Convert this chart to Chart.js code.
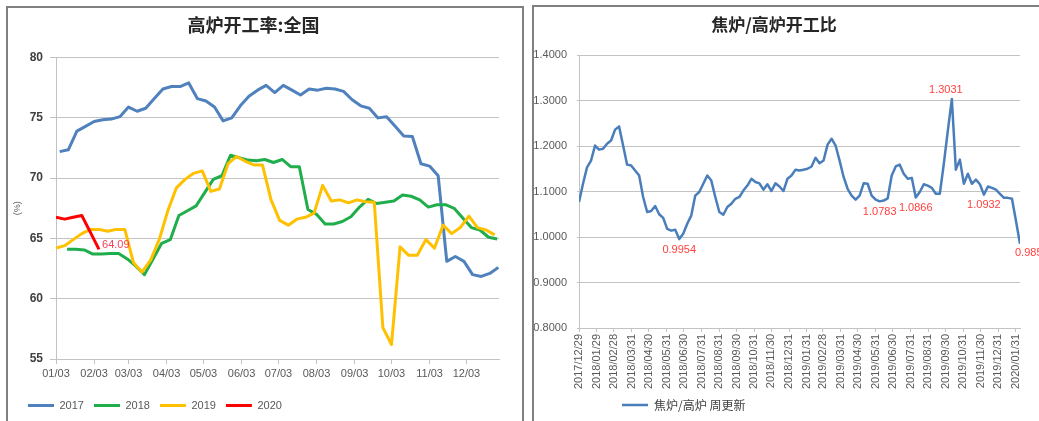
<!DOCTYPE html>
<html>
<head>
<meta charset="utf-8">
<script src="https://cdn.jsdelivr.net/npm/chart.js@4.4.1/dist/chart.umd.min.js"></script>
<style>
  html, body { margin: 0; padding: 0; background: #fff; }
  body { width: 1039px; height: 421px; position: relative; overflow: hidden; }
  .panel { position: absolute; overflow: hidden; border: 2px solid #808080; border-bottom: none; }
  #left { left: 6px; top: 6px; width: 514px; height: 415px; }
  #right { left: 532px; top: 5px; width: 507px; height: 416px; border-right: none; }
  canvas { position: absolute; top: 0; }
  #blastCanvas { left: 0; }
  #ratioCanvas { left: -6px; }
</style>
</head>
<body>
<div class="panel" id="left"><canvas id="blastCanvas" width="514" height="413"></canvas></div>
<div class="panel" id="right"><canvas id="ratioCanvas" width="511" height="414"></canvas></div>
<script>
// left chart: weekly blast furnace utilisation (%), one series per year
const monthTicks = ['01/03', '02/03', '03/03', '04/03', '05/03', '06/03', '07/03', '08/03', '09/03', '10/03', '11/03', '12/03']

const start2017 = '01/06'
const rate2017 = [72.2, 72.35, 73.9, 74.3, 74.7, 74.85, 74.9, 75.1, 75.9, 75.55,
  75.8, 76.6, 77.4, 77.6, 77.6, 77.9, 76.6, 76.4, 75.9, 74.75,
  75.0, 76.0, 76.8, 77.3, 77.7, 77.1, 77.7, 77.3, 76.9, 77.4,
  77.3, 77.45, 77.4, 77.2, 76.5, 76.0, 75.8, 75.0, 75.1, 74.3,
  73.5, 73.45, 71.2, 71.0, 70.2, 63.1, 63.5, 63.1, 62.0, 61.85,
  62.1, 62.6]

const start2018 = '01/12'
const rate2018 = [64.1, 64.1, 64.05, 63.7, 63.7, 63.75, 63.75, 63.3, 62.7, 62.0,
  63.3, 64.6, 64.9, 66.9, 67.3, 67.7, 68.8, 69.9, 70.2, 71.9,
  71.7, 71.5, 71.45, 71.55, 71.3, 71.55, 70.95, 70.95, 67.4, 67.0,
  66.2, 66.2, 66.4, 66.8, 67.6, 68.25, 67.9, 68.0, 68.1, 68.6,
  68.5, 68.2, 67.6, 67.8, 67.8, 67.5, 66.7, 65.9, 65.7, 65.1,
  64.95]

const start2019 = '01/03'
const rate2019 = [64.2, 64.4, 64.9, 65.4, 65.75, 65.75, 65.6, 65.75, 65.75, 63.0,
  62.2, 63.2, 64.9, 67.3, 69.2, 69.9, 70.4, 70.6, 68.9, 69.1,
  71.2, 71.8, 71.4, 71.1, 71.1, 68.2, 66.5, 66.1, 66.6, 66.75,
  67.1, 69.4, 68.1, 68.2, 67.95, 68.2, 68.05, 68.0, 57.6, 56.2,
  64.3, 63.6, 63.6, 64.9, 64.2, 66.1, 65.4, 65.9, 66.85, 65.9,
  65.7, 65.3]

const start2020 = '01/03'
const rate2020 = [66.75, 66.6, 66.75, 66.9, 65.5, 64.09]

// right chart: coke oven / blast furnace utilisation ratio, weekly from 2017/12/29
const ratioStart = '2017/12/29'
const ratioTicks = ['2017/12/29', '2018/01/29', '2018/02/28', '2018/03/31', '2018/04/30', '2018/05/31',
  '2018/06/30', '2018/07/31', '2018/08/31', '2018/09/30', '2018/10/31', '2018/11/30', '2018/12/31',
  '2019/01/31', '2019/02/28', '2019/03/31', '2019/04/30', '2019/05/31', '2019/06/30', '2019/07/31',
  '2019/08/31', '2019/09/30', '2019/10/31', '2019/11/30', '2019/12/31', '2020/01/31']
const ratio = [1.077, 1.117, 1.153, 1.168, 1.201, 1.192, 1.194, 1.205, 1.212, 1.236,
  1.243, 1.201, 1.159, 1.157, 1.146, 1.135, 1.088, 1.055, 1.057, 1.068,
  1.050, 1.042, 1.018, 1.014, 1.016, 0.9954, 1.007, 1.029, 1.047, 1.091,
  1.099, 1.117, 1.135, 1.124, 1.088, 1.055, 1.049, 1.066, 1.073, 1.084,
  1.088, 1.102, 1.113, 1.128, 1.121, 1.118, 1.104, 1.116, 1.101, 1.118,
  1.111, 1.101, 1.128, 1.135, 1.148, 1.146, 1.148, 1.150, 1.155, 1.174,
  1.162, 1.168, 1.203, 1.216, 1.201, 1.168, 1.132, 1.106, 1.091, 1.082,
  1.091, 1.118, 1.117, 1.091, 1.082, 1.0783, 1.080, 1.085, 1.135, 1.155,
  1.159, 1.139, 1.128, 1.130, 1.0866, 1.099, 1.116, 1.113, 1.108, 1.095,
  1.095, 1.161, 1.234, 1.3031, 1.148, 1.170, 1.117, 1.139, 1.117, 1.126,
  1.116, 1.0932, 1.111, 1.108, 1.104, 1.095, 1.086, 1.086, 1.084, 1.035,
  0.985]
const ratioNotes = [0.9954, 1.0783, 1.0866, 1.0932, 1.3031, 0.985]

const LATIN = "'Liberation Sans', 'Noto Sans CJK SC', sans-serif"
const CJK = "'Noto Sans CJK SC', 'Liberation Sans', sans-serif"
const GRID = '#c3c3c3'
const TEXT = '#595959'

const DAY = 864e5
function dayOfYear (mmdd) {
  const [m, d] = mmdd.split('/').map(Number)
  return (Date.UTC(2019, m - 1, d) - Date.UTC(2019, 0, 1)) / DAY
}
function dateValue (s) {
  const [y, m, d] = s.split('/').map(Number)
  return Date.UTC(y, m - 1, d) / DAY
}
function daysSince (s) {
  return dateValue(s) - dateValue(ratioStart)
}

function weekly (values, first) {
  return values.map((v, i) => ({ x: first + 7 * i, y: v }))
}

function yearSeries (label, values, start, color, order) {
  return {
    label,
    data: weekly(values, dayOfYear(start)),
    borderColor: color,
    backgroundColor: color,
    borderWidth: 3,
    order
  }
}

// chart.js puts a bottom legend at the canvas edge; move it to where the reference has it
const legendShift = {
  id: 'legendShift',
  beforeDraw (chart, args, opts) {
    if (chart.legend && opts.left != null) chart.legend.left = opts.left
  }
}

// red value notes next to selected points
const pointNotes = {
  id: 'pointNotes',
  afterDatasetsDraw (chart, args, opts) {
    if (!opts.items) return
    const ctx = chart.ctx
    ctx.save()
    ctx.font = opts.font
    ctx.fillStyle = opts.color
    opts.items.forEach(item => {
      const dsIndex = item.dataset || 0
      const data = chart.data.datasets[dsIndex].data
      const i = data.findIndex(p => p.y === item.value)
      if (i < 0) return
      const pt = chart.getDatasetMeta(dsIndex).data[i]
      const text = item.value.toFixed(opts.digits)
      if (item.side === 'right') {
        ctx.textAlign = 'left'
        ctx.textBaseline = 'middle'
        ctx.fillText(text, pt.x + 3, pt.y - 4)
      } else if (item.side === 'above') {
        ctx.textAlign = 'center'
        ctx.textBaseline = 'bottom'
        ctx.fillText(text, pt.x - 6, pt.y - 4)
      } else if (item.side === 'belowRight') {
        ctx.textAlign = 'left'
        ctx.textBaseline = 'top'
        ctx.fillText(text, pt.x - 5, pt.y + 4)
      } else {
        ctx.textAlign = 'center'
        ctx.textBaseline = 'top'
        ctx.fillText(text, pt.x, pt.y + 5)
      }
    })
    ctx.restore()
  }
}

Chart.register(legendShift, pointNotes)

const monthDays = monthTicks.map(dayOfYear)

new Chart(document.getElementById('blastCanvas'), {
  type: 'line',
  data: {
    datasets: [
      yearSeries('2017', rate2017, start2017, '#4f81bd', 4),
      yearSeries('2018', rate2018, start2018, '#1fae4b', 3),
      yearSeries('2019', rate2019, start2019, '#ffc000', 2),
      yearSeries('2020', rate2020, start2020, '#ff0000', 1)
    ]
  },
  options: {
    responsive: false,
    animation: false,
    devicePixelRatio: 1,
    layout: { padding: { right: 23 } },
    elements: { point: { radius: 0 }, line: { tension: 0, borderJoinStyle: 'round' } },
    plugins: {
      title: {
        display: true,
        text: '高炉开工率:全国',
        color: '#262626',
        font: { family: CJK, size: 18, weight: 'bold' },
        padding: { top: 6, bottom: 22 }
      },
      legend: {
        position: 'bottom',
        align: 'start',
        labels: {
          usePointStyle: true,
          pointStyle: 'line',
          pointStyleWidth: 26,
          color: TEXT,
          font: { family: LATIN, size: 11 },
          padding: 10,
          sort: (a, b) => a.datasetIndex - b.datasetIndex
        }
      },
      tooltip: { enabled: false },
      legendShift: { left: 10 },
      pointNotes: {
        font: '11px ' + LATIN,
        color: '#f0405a',
        digits: 2,
        items: [{ dataset: 3, value: rate2020[rate2020.length - 1], side: 'right' }]
      }
    },
    scales: {
      x: {
        type: 'linear',
        min: monthDays[0],
        max: 362.5,
        afterBuildTicks: scale => { scale.ticks = monthDays.map(v => ({ value: v })) },
        afterFit: scale => { scale.height = 31 },
        grid: { drawOnChartArea: false, color: GRID, tickLength: 5 },
        border: { color: GRID },
        ticks: {
          autoSkip: false,
          maxRotation: 0,
          padding: 3,
          color: TEXT,
          font: { family: LATIN, size: 11 },
          callback: v => monthTicks[monthDays.indexOf(v)]
        }
      },
      y: {
        min: 55,
        max: 80,
        afterFit: scale => { scale.width = 48 },
        grid: { color: GRID, tickLength: 6 },
        border: { color: GRID },
        ticks: { stepSize: 5, padding: 7, color: '#404040', font: { family: LATIN, size: 12, weight: 'bold' } },
        title: { display: true, text: '(%)', color: TEXT, font: { family: LATIN, size: 9 }, padding: { top: 4, bottom: 0 } }
      }
    }
  }
})

const ratioTickDays = ratioTicks.map(daysSince)

new Chart(document.getElementById('ratioCanvas'), {
  type: 'line',
  data: {
    datasets: [{
      label: '焦炉/高炉 周更新',
      data: weekly(ratio, 0),
      borderColor: '#4a7ebb',
      backgroundColor: '#4a7ebb',
      borderWidth: 2.5
    }]
  },
  options: {
    responsive: false,
    animation: false,
    devicePixelRatio: 1,
    layout: { padding: { right: 19 } },
    elements: { point: { radius: 0 }, line: { tension: 0, borderJoinStyle: 'round' } },
    plugins: {
      title: {
        display: true,
        text: '焦炉/高炉开工比',
        color: '#262626',
        font: { family: CJK, size: 17, weight: 'bold' },
        padding: { top: 7, bottom: 20.6 }
      },
      legend: {
        position: 'bottom',
        align: 'start',
        labels: {
          usePointStyle: true,
          pointStyle: 'line',
          pointStyleWidth: 26,
          color: '#404040',
          font: { family: CJK, size: 12 },
          padding: 10
        }
      },
      tooltip: { enabled: false },
      legendShift: { left: 84 },
      pointNotes: {
        font: '11px ' + LATIN,
        color: '#ff4040',
        digits: 4,
        items: ratioNotes.map((v, k) => ({
          value: v,
          side: v > 1.2 ? 'above' : (k === ratioNotes.length - 1 ? 'belowRight' : 'below')
        }))
      }
    },
    scales: {
      x: {
        type: 'linear',
        min: 0,
        max: 7 * (ratio.length - 1),
        afterBuildTicks: scale => { scale.ticks = ratioTickDays.map(v => ({ value: v })) },
        afterFit: scale => { scale.height = 61 },
        grid: { drawOnChartArea: false, color: GRID, tickLength: 4 },
        border: { color: GRID },
        ticks: {
          autoSkip: false,
          minRotation: 90,
          maxRotation: 90,
          padding: 2,
          color: TEXT,
          font: { family: LATIN, size: 11 },
          callback: v => ratioTicks[ratioTickDays.indexOf(v)]
        }
      },
      y: {
        min: 0.8,
        max: 1.4,
        afterFit: scale => { scale.width = 51 },
        grid: { color: GRID, tickLength: 2 },
        border: { color: GRID },
        ticks: { stepSize: 0.1, padding: 10, color: TEXT, font: { family: LATIN, size: 11 }, callback: v => v.toFixed(4) }
      }
    }
  }
})
</script>
</body>
</html>
